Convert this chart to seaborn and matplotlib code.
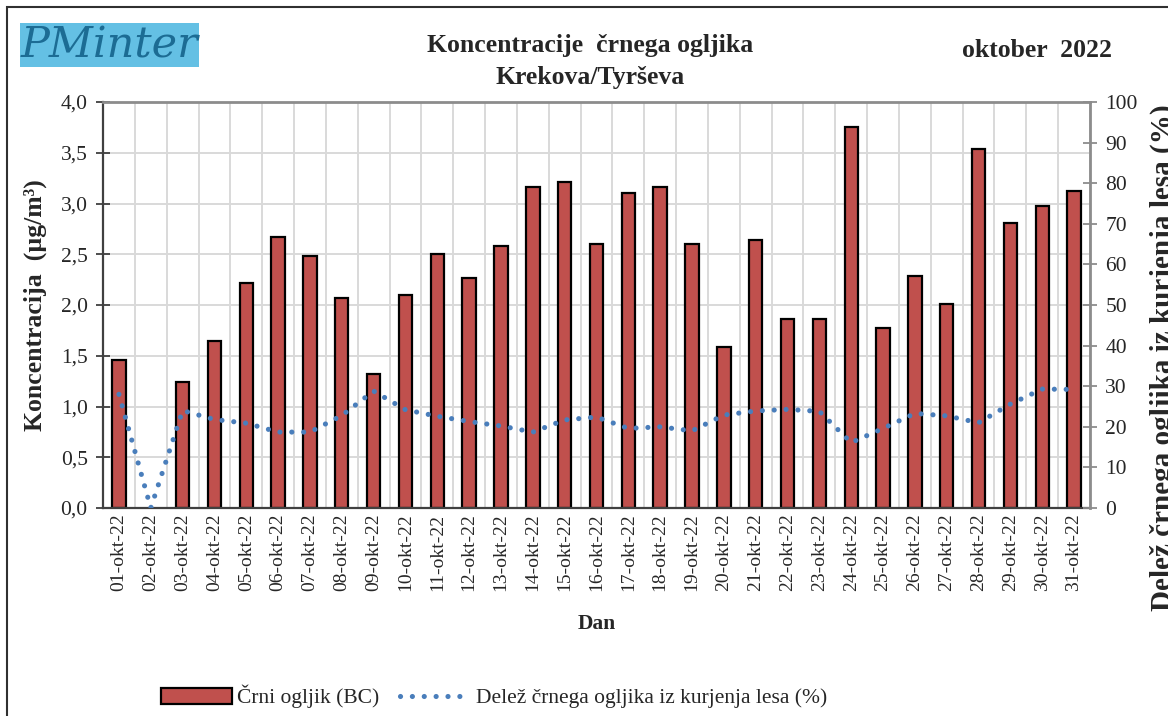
"""
Black carbon concentration, Krekova/Tyrseva, October 2022.
"""

import numpy as np
import pandas as pd
import matplotlib
matplotlib.use('Agg')
import matplotlib.pyplot as plt
import seaborn as sns
from matplotlib.patches import Patch, Rectangle
from matplotlib.lines import Line2D

# daily data
days = list(range(1, 32))
day_labels = [f"{d:02d}-okt-22" for d in days]
bc_conc = [1.46, np.nan, 1.24, 1.65, 2.22, 2.67, 2.48, 2.07, 1.32, 2.10,
           2.50, 2.27, 2.58, 3.16, 3.21, 2.60, 3.10, 3.16, 2.60, 1.59,
           2.64, 1.86, 1.86, 3.75, 1.77, 2.29, 2.01, 3.54, 2.81, 2.98, 3.12]
wood_share = [28.0, 0.0, 24.0, 21.8, 20.9, 18.7, 18.7, 22.8, 28.8, 24.2,
              22.6, 21.3, 20.2, 18.7, 21.7, 22.4, 19.6, 20.0, 19.0, 22.9,
              23.9, 24.3, 23.8, 16.1, 19.6, 23.3, 22.7, 21.0, 25.6, 29.3, 29.2]

left_ticks = [0.0, 0.5, 1.0, 1.5, 2.0, 2.5, 3.0, 3.5, 4.0]
right_ticks = [0, 10, 20, 30, 40, 50, 60, 70, 80, 90, 100]

BAR_COLOR = '#C0504D'
LINE_COLOR = '#4A7EBB'
GRID_COLOR = '#D9D9D9'
DOTS = (0, (0.01, 2.3))

sns.set_theme(style='white')
plt.rcParams['font.family'] = ['Liberation Serif', 'DejaVu Serif']

df = pd.DataFrame({'Dan': day_labels, 'BC': bc_conc, 'Les': wood_share,
                   'pos': np.arange(len(days))})

fig = plt.figure(figsize=(11.68, 7.16), dpi=100)
ax = fig.add_axes([0.0882, 0.2905, 0.845, 0.567])

sns.barplot(data=df, x='Dan', y='BC', color=BAR_COLOR, saturation=1,
            edgecolor='black', linewidth=1.6, width=0.42, errorbar=None, ax=ax)

ax2 = ax.twinx()
sns.lineplot(data=df, x='pos', y='Les', ax=ax2, color=LINE_COLOR,
             linewidth=3.7, linestyle=DOTS, dash_capstyle='round')

# axes ranges and ticks
ax.set_xlim(-0.5, len(days) - 0.5)
ax.set_ylim(0, 4)
ax.set_yticks(left_ticks)
ax.set_yticklabels([f"{v:.1f}".replace('.', ',') for v in left_ticks], fontsize=15.5)
ax2.set_ylim(0, 100)
ax2.set_yticks(right_ticks)
ax2.set_yticklabels([str(v) for v in right_ticks], fontsize=15.5)

ax.set_xticks(np.arange(-0.5, len(days), 1), minor=True)
ax.tick_params(axis='x', which='major', length=0, labelrotation=90,
               labelsize=14, pad=4)
ax.tick_params(axis='x', which='minor', direction='inout', length=8,
               width=1.2, color='#404040')
ax.tick_params(axis='y', direction='inout', length=10, width=1.3,
               color='#404040', pad=6)
ax2.tick_params(axis='y', direction='inout', length=10, width=1.3,
                color='#8C8C8C', pad=6)

# grid
ax.set_axisbelow(True)
ax.yaxis.grid(True, color=GRID_COLOR, linewidth=1.4)
ax.xaxis.grid(True, which='minor', color=GRID_COLOR, linewidth=1.4)

# spines
for side in ['left', 'bottom']:
    ax.spines[side].set_color('#404040')
    ax.spines[side].set_linewidth(1.6)
ax.spines['top'].set_color('#8C8C8C')
ax.spines['top'].set_linewidth(2)
ax.spines['right'].set_visible(False)
for side in ['left', 'bottom', 'top']:
    ax2.spines[side].set_visible(False)
ax2.spines['right'].set_color('#8C8C8C')
ax2.spines['right'].set_linewidth(2)

ax.set_xlabel('Dan', fontsize=15.5, fontweight='bold', labelpad=16)
ax.set_ylabel('Koncentracija  (µg/m³)', fontsize=18.5, fontweight='bold', labelpad=10)
ax2.set_ylabel('')

fig.text(0.996, 0.50, 'Delež črnega ogljika iz kurjenja lesa (%)', rotation=90,
         ha='center', va='center', fontsize=21, fontweight='bold')

# titles
fig.text(0.505, 0.937, 'Koncentracije  črnega ogljika', ha='center', va='center',
         fontsize=18.5, fontweight='bold')
fig.text(0.505, 0.892, 'Krekova/Tyrševa', ha='center', va='center',
         fontsize=18.5, fontweight='bold')
fig.text(0.888, 0.930, 'oktober  2022', ha='center', va='center',
         fontsize=18.5, fontweight='bold')

# logo
fig.text(0.0175, 0.937, 'PMinter', ha='left', va='center', fontsize=31,
         style='italic', color='#1C6C94', family=['DejaVu Serif'],
         bbox=dict(boxstyle='square,pad=0.02', facecolor='#64C0E4', edgecolor='none'))

# outer frame
fig.patches.append(Rectangle((0.006, -0.5), 2, 1.49, transform=fig.transFigure,
                             fill=False, edgecolor='#303030', linewidth=1.5))

# legend
handles = [Patch(facecolor=BAR_COLOR, edgecolor='black', linewidth=1.6),
           Line2D([0], [0], color=LINE_COLOR, linewidth=3.7,
                  linestyle=DOTS, dash_capstyle='round')]
fig.legend(handles, ['Črni ogljik (BC)', 'Delež črnega ogljika iz kurjenja lesa (%)'],
           loc='center', bbox_to_anchor=(0.423, 0.027), ncol=2, frameon=False,
           fontsize=15.5, handlelength=3.3, handleheight=0.8, columnspacing=1.0,
           handletextpad=0.2)

fig.savefig('out.png', dpi=100)
